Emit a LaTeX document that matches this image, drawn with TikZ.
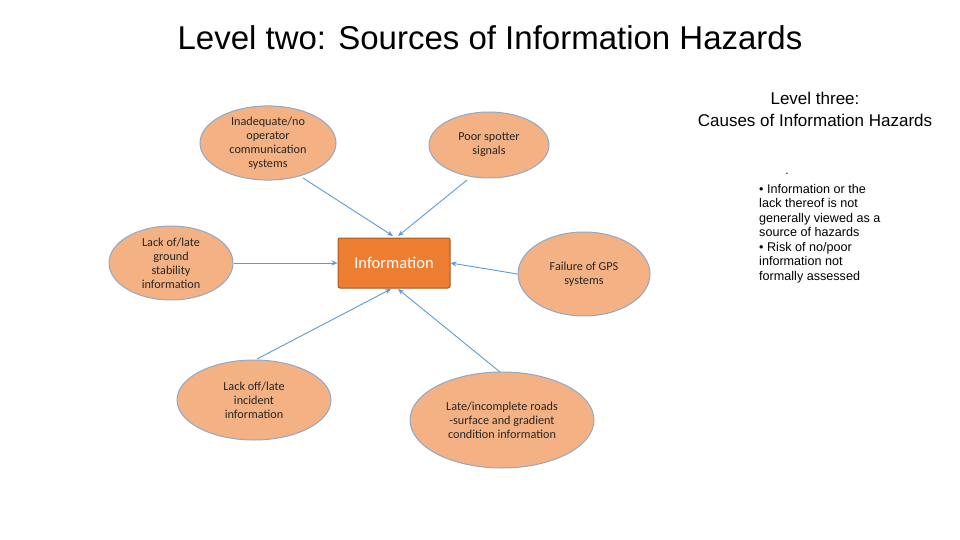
\documentclass[tikz,border=0pt]{standalone}
\usepackage{fontspec}
\setmainfont{Liberation Sans}
\newfontfamily\calfont{Carlito}
\usetikzlibrary{shapes.geometric,arrows.meta}
\definecolor{ell}{HTML}{F4B183}
\definecolor{eb}{HTML}{8FA9C9}
\definecolor{ar}{HTML}{5B9BD5}
\definecolor{inf}{HTML}{ED7D31}
\begin{document}
\begin{tikzpicture}[x=1pt,y=-1pt,
 el/.style={ellipse,fill=ell,draw=eb,line width=1pt,inner sep=0pt,align=center,font=\calfont\fontsize{12.2}{14}\selectfont,text=black!85},
 con/.style={draw=ar,line width=0.9pt,-{Stealth[length=6pt,width=5pt]}}]
\useasboundingbox (0,0) rectangle (960,540);
\node at (490,38) {\fontsize{33}{38}\selectfont Level two: Sources of Information Hazards};
\node[align=center,font=\fontsize{17}{22}\selectfont] at (815,109) {Level three:\\Causes of Information Hazards};
\node (dot) at (787,174) {\fontsize{12}{14}\selectfont .};
\node[align=left,anchor=north west,inner sep=0pt,font=\fontsize{12.6}{14.5}\selectfont] (txt) at (759,184) {• Information or the\\lack thereof is not\\generally viewed as a\\source of hazards\\• Risk of no/poor\\information not\\formally assessed};
\node[el,minimum width=136pt,minimum height=72pt] (a) at (268,143) {Inadequate/no\\operator\\communication\\systems};
\node[el,minimum width=120pt,minimum height=66pt] (b) at (489,145) {Poor spotter\\signals};
\node[el,minimum width=124pt,minimum height=74pt] (c) at (171,263) {Lack of/late\\ground\\stability\\information};
\node[el,minimum width=132pt,minimum height=84pt] (d) at (584,274) {Failure of GPS\\systems};
\node[el,minimum width=154pt,minimum height=80pt] (e) at (254,400) {Lack off/late\\incident\\information};
\node[el,minimum width=184pt,minimum height=96pt] (f) at (502,420) {Late/incomplete roads\\-surface and gradient\\condition information};
\node[draw=inf!70!black,fill=inf,line width=1pt,rounded corners=2pt,minimum width=112pt,minimum height=50pt,font=\calfont\fontsize{16.5}{18}\selectfont,text=white] (i) at (394,263) {Information};
\draw[con] (303,178) -- (393,236);
\draw[con] (467,180) -- (398,236);
\draw[con] (c.east) -- (i.west);
\draw[con] (d.west) -- (i.east);
\draw[con] (257,359) -- (391,289);
\draw[con] (500,372) -- (398,289);
\end{tikzpicture}
\end{document}
